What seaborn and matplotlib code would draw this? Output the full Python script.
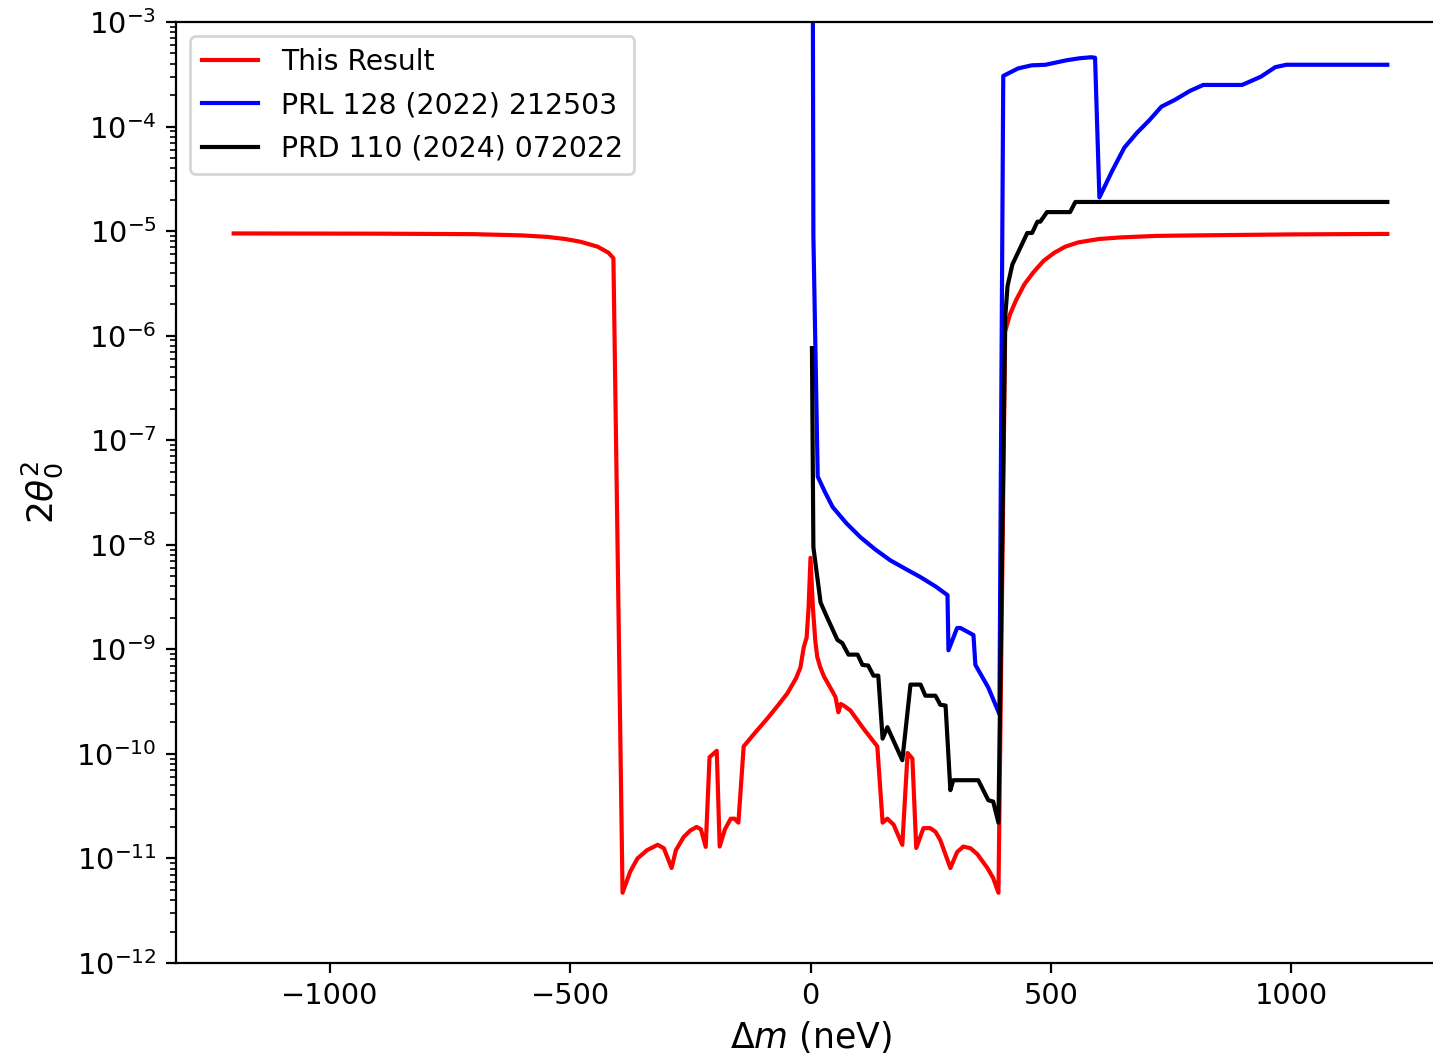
import numpy as np
import pandas as pd
import matplotlib
matplotlib.use("Agg")
import matplotlib.pyplot as plt
import seaborn as sns

# Exclusion limits on 2*theta_0^2 versus mass splitting (neV)
this_x = [-1200, -900, -700, -600, -547, -510, -478, -443, -420, -410, -391,
          -375, -360, -340, -318, -305, -289, -280, -264, -250, -237, -228, -218,
          -210, -195, -189, -178, -166, -158, -150, -139, -115, -89, -68, -48,
          -30, -21, -14, -8, -4, 0, 5, 10, 14, 20, 28, 40, 52, 58, 63, 69, 83,
          110, 139, 150, 160, 173, 191, 202, 212, 220, 235, 249, 260, 270, 291,
          305, 318, 333, 347, 368, 380, 391, 405, 415, 428, 445, 463, 485, 507,
          530, 557, 600, 644, 720, 800, 1000, 1200]
this_y = [9.5e-6, 9.45e-6, 9.35e-6, 9.1e-6, 8.8e-6, 8.4e-6, 7.9e-6, 7.1e-6, 6.2e-6, 5.5e-6, 4.7e-12,
          7.5e-12, 1.0e-11, 1.2e-11, 1.35e-11, 1.25e-11, 8.1e-12, 1.2e-11, 1.6e-11, 1.85e-11, 2.0e-11, 1.9e-11, 1.29e-11,
          9.3e-11, 1.07e-10, 1.3e-11, 1.9e-11, 2.4e-11, 2.4e-11, 2.2e-11, 1.18e-10, 1.6e-10, 2.2e-10, 2.9e-10, 3.8e-10,
          5.3e-10, 6.7e-10, 1.05e-9, 1.3e-9, 2.5e-9, 7.5e-9, 2.5e-9, 1.2e-9, 8.5e-10, 6.8e-10, 5.5e-10, 4.4e-10, 3.5e-10, 2.5e-10, 3.0e-10, 2.9e-10, 2.6e-10,
          1.75e-10, 1.18e-10, 2.2e-11, 2.4e-11, 2.1e-11, 1.35e-11, 1.02e-10, 9.0e-11, 1.26e-11, 1.95e-11, 1.95e-11, 1.8e-11, 1.5e-11, 8.1e-12,
          1.15e-11, 1.3e-11, 1.25e-11, 1.1e-11, 8.1e-12, 6.5e-12, 4.7e-12, 1.1e-6, 1.6e-6, 2.2e-6, 3.1e-6, 4.0e-6, 5.2e-6, 6.2e-6,
          7.1e-6, 7.8e-6, 8.4e-6, 8.7e-6, 9.0e-6, 9.1e-6, 9.3e-6, 9.4e-6]

prl_x = [4, 6, 15, 30, 46, 75, 104, 135, 166, 200, 229, 260, 285, 287, 305, 312,
         339, 343, 370, 393, 401, 432, 460, 489, 532, 560, 584, 592, 601, 628,
         653, 679, 705, 730, 757, 790, 817, 898, 937, 967, 990, 1200]
prl_y = [1e-1, 9e-6, 4.5e-8, 3.2e-8, 2.3e-8, 1.6e-8, 1.18e-8, 9.0e-9, 7.1e-9, 5.8e-9, 4.9e-9, 4.0e-9, 3.3e-9, 9.8e-10, 1.6e-9, 1.6e-9,
         1.37e-9, 7.1e-10, 4.3e-10, 2.4e-10, 3.05e-4, 3.6e-4, 3.85e-4, 3.9e-4, 4.3e-4, 4.5e-4, 4.6e-4, 4.55e-4, 2.1e-5, 3.8e-5,
         6.3e-5, 8.7e-5, 1.15e-4, 1.55e-4, 1.79e-4, 2.2e-4, 2.5e-4, 2.5e-4, 3.0e-4, 3.7e-4, 3.9e-4, 3.9e-4]

prd_x = [3, 6, 21, 35, 56, 66, 79, 98, 108, 120, 131, 141, 150, 160, 191, 208,
         229, 239, 260, 270, 281, 291, 297, 349, 370, 380, 391, 405, 410, 420,
         451, 461, 472, 478, 492, 540, 551, 1200]
prd_y = [7.6e-7, 9.5e-9, 2.8e-9, 2.0e-9, 1.23e-9, 1.15e-9, 8.9e-10, 8.9e-10, 7.1e-10, 7.0e-10, 5.6e-10, 5.6e-10, 1.4e-10, 1.8e-10, 8.7e-11, 4.6e-10,
         4.6e-10, 3.6e-10, 3.6e-10, 2.95e-10, 2.9e-10, 4.5e-11, 5.6e-11, 5.6e-11, 3.6e-11, 3.5e-11, 2.2e-11, 1.5e-6, 3.0e-6, 4.8e-6,
         9.6e-6, 9.6e-6, 1.23e-5, 1.23e-5, 1.52e-5, 1.52e-5, 1.9e-5, 1.9e-5]

labels = ["This Result", "PRL 128 (2022) 212503", "PRD 110 (2024) 072022"]
colors = ["red", "blue", "black"]

frames = []
for lab, xs, ys in zip(labels, [this_x, prl_x, prd_x], [this_y, prl_y, prd_y]):
    frames.append(pd.DataFrame({"dm": xs, "theta": ys, "source": lab}))
df = pd.concat(frames, ignore_index=True)

plt.rcParams["font.family"] = ["DejaVu Sans"]
plt.rcParams["font.size"] = 10.4
fig = plt.figure(figsize=(1433 / 200, 1060 / 200), dpi=200)
ax = fig.add_axes([176 / 1433, 97 / 1060, 1269 / 1433, 941 / 1060])

sns.lineplot(data=df, x="dm", y="theta", hue="source", hue_order=labels,
             palette=dict(zip(labels, colors)), estimator=None, sort=False,
             linewidth=1.5, ax=ax)

ax.set_yscale("log")
ax.set_xlim(-1320, 1320)
ax.set_ylim(1e-12, 1e-3)
ax.set_xticks([-1000, -500, 0, 500, 1000])
ax.set_xlabel(r"$\Delta m$ (neV)", fontsize=12.5, labelpad=3)
ax.set_ylabel(r"$2\theta_0^2$", fontsize=13)

handles, labs = ax.get_legend_handles_labels()
ax.legend(handles, labs, loc="upper left", fontsize=10.2, labelspacing=0.55)

fig.savefig("out.png", dpi=200)
